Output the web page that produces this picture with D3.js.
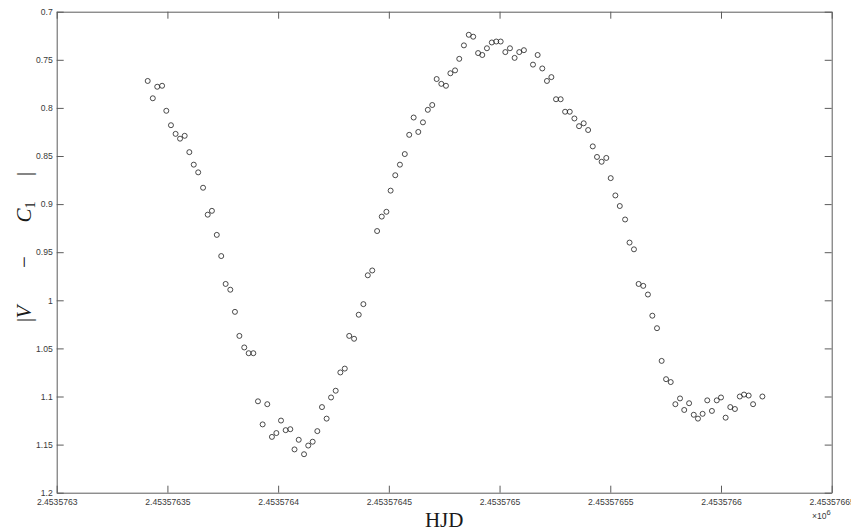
<!DOCTYPE html>
<html>
<head>
<meta charset="utf-8">
<script src="https://cdn.jsdelivr.net/npm/d3@7"></script>
<style>
  body { margin: 0; background: #fff; }
  svg { display: block; }
</style>
</head>
<body>
<svg id="chart" width="851" height="532"></svg>
<script>
// HJD of each observation
const hjd = [
  2453576.3411, 2453576.3434, 2453576.3454, 2453576.3476, 2453576.3495, 2453576.3516, 2453576.3537,
  2453576.3557, 2453576.3578, 2453576.3599, 2453576.3619, 2453576.3639, 2453576.3661, 2453576.3682,
  2453576.3701, 2453576.3723, 2453576.3743, 2453576.3763, 2453576.3784, 2453576.3805, 2453576.3825,
  2453576.3847, 2453576.3867, 2453576.3888, 2453576.3909, 2453576.3930, 2453576.3951, 2453576.3972,
  2453576.3992, 2453576.4013, 2453576.4034, 2453576.4055, 2453576.4074, 2453576.4093, 2453576.4117,
  2453576.4136, 2453576.4156, 2453576.4177, 2453576.4198, 2453576.4219, 2453576.4239, 2453576.4260,
  2453576.4281, 2453576.4301, 2453576.4321, 2453576.4343, 2453576.4364, 2453576.4385, 2453576.4405,
  2453576.4425, 2453576.4447, 2453576.4468, 2453576.4489, 2453576.4508, 2453576.4529, 2453576.4550,
  2453576.4572, 2453576.4592, 2453576.4612, 2453576.4633, 2453576.4654, 2453576.4676, 2453576.4696,
  2453576.4716, 2453576.4737, 2453576.4758, 2453576.4778, 2453576.4799, 2453576.4818, 2453576.4839,
  2453576.4861, 2453576.4881, 2453576.4903, 2453576.4922, 2453576.4943, 2453576.4965, 2453576.4985,
  2453576.5005, 2453576.5026, 2453576.5047, 2453576.5068, 2453576.5089, 2453576.5110, 2453576.5151,
  2453576.5172, 2453576.5193, 2453576.5214, 2453576.5234, 2453576.5255, 2453576.5276, 2453576.5296,
  2453576.5317, 2453576.5338, 2453576.5359, 2453576.5380, 2453576.5400, 2453576.5421, 2453576.5440,
  2453576.5461, 2453576.5482, 2453576.5502, 2453576.5523, 2453576.5543, 2453576.5567, 2453576.5587,
  2453576.5607, 2453576.5628, 2453576.5649, 2453576.5670, 2453576.5690, 2453576.5711, 2453576.5732,
  2453576.5752, 2453576.5773, 2453576.5794, 2453576.5815, 2453576.5834, 2453576.5856, 2453576.5877,
  2453576.5896, 2453576.5917, 2453576.5938, 2453576.5959, 2453576.5981, 2453576.6000, 2453576.6021,
  2453576.6042, 2453576.6063, 2453576.6085, 2453576.6104, 2453576.6125, 2453576.6145, 2453576.6187
]

// |V - C1| differential magnitude
const magDiff = [
  0.772, 0.790, 0.778, 0.777, 0.803, 0.818, 0.827,
  0.832, 0.829, 0.846, 0.859, 0.867, 0.883, 0.911,
  0.907, 0.932, 0.954, 0.983, 0.989, 1.012, 1.037,
  1.049, 1.055, 1.055, 1.105, 1.129, 1.108, 1.142,
  1.138, 1.125, 1.135, 1.134, 1.155, 1.145, 1.160,
  1.151, 1.147, 1.136, 1.111, 1.123, 1.101, 1.094,
  1.075, 1.071, 1.037, 1.040, 1.015, 1.004, 0.974,
  0.969, 0.928, 0.913, 0.908, 0.886, 0.870, 0.859,
  0.848, 0.828, 0.810, 0.825, 0.815, 0.802, 0.797,
  0.770, 0.775, 0.777, 0.764, 0.761, 0.749, 0.735,
  0.724, 0.726, 0.743, 0.745, 0.738, 0.732, 0.731,
  0.731, 0.742, 0.738, 0.748, 0.742, 0.740, 0.755,
  0.745, 0.759, 0.772, 0.768, 0.791, 0.791, 0.804,
  0.804, 0.811, 0.819, 0.816, 0.823, 0.840, 0.851,
  0.856, 0.852, 0.873, 0.891, 0.902, 0.916, 0.940,
  0.947, 0.983, 0.985, 0.994, 1.016, 1.029, 1.063,
  1.082, 1.085, 1.108, 1.102, 1.114, 1.107, 1.119,
  1.123, 1.118, 1.104, 1.115, 1.104, 1.101, 1.122,
  1.111, 1.113, 1.100, 1.098, 1.099, 1.108, 1.100
]

const xTicks = [2453576.30, 2453576.35, 2453576.40, 2453576.45, 2453576.50, 2453576.55, 2453576.60, 2453576.65]
const xTickLabels = ['2.4535763', '2.45357635', '2.4535764', '2.45357645', '2.4535765', '2.45357655', '2.4535766', '2.45357665']
const yTicks = [0.7, 0.75, 0.8, 0.85, 0.9, 0.95, 1, 1.05, 1.1, 1.15, 1.2]
const yTickLabels = ['0.7', '0.75', '0.8', '0.85', '0.9', '0.95', '1', '1.05', '1.1', '1.15', '1.2']

const plot = {left: 56.7, right: 831.7, top: 11.7, bottom: 492.7}
const axisColor = '#5c5c5c'
const tickFont = '"Liberation Sans", Arial, sans-serif'
const mathFont = '"Liberation Serif", "Times New Roman", serif'

const svg = d3.select('#chart')

const x = d3.scaleLinear().domain([xTicks[0], xTicks[xTicks.length - 1]]).range([plot.left, plot.right])
const y = d3.scaleLinear().domain([0.7, 1.2]).range([plot.top, plot.bottom])

function styleAxis (g) {
  g.select('.domain').attr('stroke', axisColor).attr('stroke-width', 1)
  g.selectAll('.tick line').attr('stroke', axisColor).attr('stroke-width', 1)
  g.selectAll('.tick text')
    .attr('fill', '#3a3a3a')
    .style('font-family', tickFont)
    .style('font-size', '8.6px')
}

// bottom / left axes with labels, ticks pointing inward
svg.append('g')
  .attr('transform', `translate(0,${plot.bottom})`)
  .call(d3.axisBottom(x).tickValues(xTicks)
    .tickFormat((d, i) => xTickLabels[i])
    .tickSizeInner(-7).tickSizeOuter(0).tickPadding(6.5))
  .call(styleAxis)

svg.append('g')
  .attr('transform', `translate(${plot.left},0)`)
  .call(d3.axisLeft(y).tickValues(yTicks)
    .tickFormat((d, i) => yTickLabels[i])
    .tickSizeInner(-7).tickSizeOuter(0).tickPadding(4))
  .call(styleAxis)

// top / right: box with ticks, no labels
svg.append('g')
  .attr('transform', `translate(0,${plot.top})`)
  .call(d3.axisTop(x).tickValues(xTicks).tickFormat('')
    .tickSizeInner(-7).tickSizeOuter(0))
  .call(styleAxis)

svg.append('g')
  .attr('transform', `translate(${plot.right},0)`)
  .call(d3.axisRight(y).tickValues(yTicks).tickFormat('')
    .tickSizeInner(-7).tickSizeOuter(0))
  .call(styleAxis)

// data points, open circles
svg.append('g')
  .selectAll('circle')
  .data(hjd.map((t, i) => [t, magDiff[i]]))
  .join('circle')
  .attr('cx', d => x(d[0]))
  .attr('cy', d => y(d[1]))
  .attr('r', 2.5)
  .attr('fill', 'none')
  .attr('stroke', '#1e1e1e')
  .attr('stroke-width', 0.8)

// exponent note
const expo = svg.append('text')
  .attr('x', 812).attr('y', 519)
  .attr('fill', '#3a3a3a')
  .style('font-family', tickFont)
  .style('font-size', '8.6px')
expo.append('tspan').text('\u00d710')
expo.append('tspan').attr('dy', -4).style('font-size', '7.5px').text('6')

// x label
svg.append('text')
  .attr('x', (plot.left + plot.right) / 2)
  .attr('y', 527)
  .attr('text-anchor', 'middle')
  .attr('fill', '#1a1a1a')
  .style('font-family', mathFont)
  .style('font-size', '21px')
  .text('HJD')

// y label |V − C1|, rotated, pieces spread like the LaTeX spacing
const ylab = svg.append('g')
  .attr('transform', 'translate(31,252) rotate(-90)')
  .attr('fill', '#1a1a1a')
  .style('font-family', mathFont)
  .style('font-size', '21px')

ylab.append('text').attr('x', -68).attr('text-anchor', 'middle').text('|')
const vPart = ylab.append('text').attr('x', -60).attr('text-anchor', 'middle')
vPart.append('tspan').style('font-style', 'italic').text('V')
ylab.append('text').attr('x', -10).attr('text-anchor', 'middle').attr('fill', '#1a1a1a').text('\u2212')
const cPart = ylab.append('text').attr('x', 40).attr('text-anchor', 'middle')
cPart.append('tspan').style('font-style', 'italic').text('C')
cPart.append('tspan').attr('dy', 4).style('font-size', '14px').text('1')
ylab.append('text').attr('x', 78).attr('text-anchor', 'middle').text('|')
</script>
</body>
</html>
